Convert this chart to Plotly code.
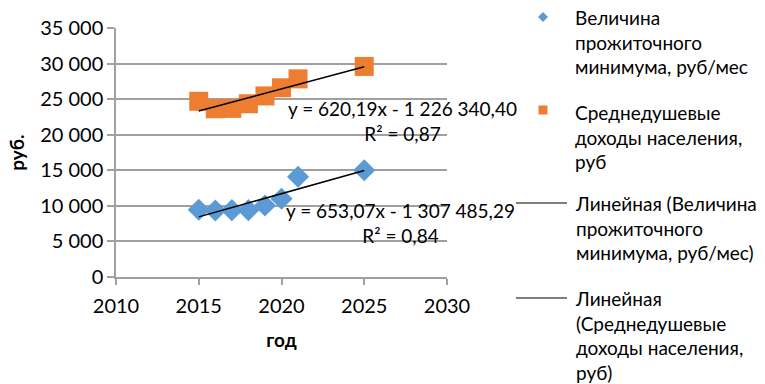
import plotly.graph_objects as go

# Годы наблюдений
years = [2015, 2016, 2017, 2018, 2019, 2020, 2021, 2025]
# Величина прожиточного минимума, руб/мес
subsistence = [9450, 9350, 9400, 9400, 10050, 11000, 14100, 15000]
# Среднедушевые доходы населения, руб
income = [24700, 23650, 23700, 24350, 25450, 26600, 27850, 29600]

# Линейные тренды: y = a*x + b
trend_sub = {"a": 653.07, "b": -1307485.29, "r2": "0,84", "eq": "y = 653,07x - 1 307 485,29"}
trend_inc = {"a": 620.19, "b": -1226340.40, "r2": "0,87", "eq": "y = 620,19x - 1 226 340,40"}

# Подписи легенды
legend_labels = [
    "Величина<br>прожиточного<br>минимума, руб/мес",
    "Среднедушевые<br>доходы населения,<br>руб",
    "Линейная (Величина<br>прожиточного<br>минимума, руб/мес)",
    "Линейная<br>(Среднедушевые<br>доходы населения,<br>руб)",
]

y_ticks = [0, 5000, 10000, 15000, 20000, 25000, 30000, 35000]
y_ticktext = ["0", "5 000", "10 000", "15 000", "20 000", "25 000", "30 000", "35 000"]
x_ticks = [2010, 2015, 2020, 2025, 2030]

BLUE = "#5B9BD5"
ORANGE = "#ED7D31"
GRID = "#A0A0A0"
FONT = "Lato"
W, H = 765, 384
L, R, T, B = 116, 318, 28, 107
PW, PH = W - L - R, H - T - B

fig = go.Figure()

# Точки рядов
fig.add_trace(go.Scatter(x=years, y=subsistence, mode="markers", name="Величина прожиточного минимума, руб/мес",
                         marker=dict(symbol="diamond", size=17, color=BLUE)))
fig.add_trace(go.Scatter(x=years, y=income, mode="markers", name="Среднедушевые доходы населения, руб",
                         marker=dict(symbol="square", size=19, color=ORANGE)))

# Линии тренда между первым и последним годом
x_tr = [years[0], years[-1]]
for tr in (trend_sub, trend_inc):
    fig.add_trace(go.Scatter(x=x_tr, y=[tr["a"] * v + tr["b"] for v in x_tr], mode="lines",
                             name="Линейная", line=dict(color="black", width=1.5)))

# Подписи уравнений трендов
for tr, xc, yc in ((trend_inc, 2027.3, 21890), (trend_sub, 2027.2, 7550)):
    fig.add_annotation(x=xc, y=yc, xref="x", yref="y", showarrow=False,
                       text=f"{tr['eq']}<br>R² = {tr['r2']}", align="center",
                       xanchor="center", yanchor="middle",
                       font=dict(family=FONT, size=19, color="black"))


# Легенда справа от области построения (координаты в пикселях -> paper)
def px(xp):
    return (xp - L) / PW


def py(yp):
    return (H - B - yp) / PH


LEG_FS = 19
line_h = 1.3 * LEG_FS
legend_first_lines = [17, 112, 203, 298]
for text, y0 in zip(legend_labels, legend_first_lines):
    n = text.count("<br>") + 1
    yc = y0 + (n - 1) * line_h / 2
    fig.add_annotation(x=px(573), y=py(yc), xref="paper", yref="paper", showarrow=False,
                       text=text, align="left", xanchor="left", yanchor="middle",
                       font=dict(family=FONT, size=LEG_FS, color="black"))

sx, d = 543, 5
fig.add_shape(type="path", xref="paper", yref="paper", line_width=0, fillcolor=BLUE,
              path=f"M{px(sx - d)},{py(17)} L{px(sx)},{py(17 - d)} L{px(sx + d)},{py(17)} L{px(sx)},{py(17 + d)} Z")
fig.add_shape(type="rect", xref="paper", yref="paper", line_width=0, fillcolor=ORANGE,
              x0=px(sx - 4.5), x1=px(sx + 4.5), y0=py(110 + 4.5), y1=py(110 - 4.5))
for yl in (203, 298):
    fig.add_shape(type="line", xref="paper", yref="paper", line=dict(color="black", width=1.2),
                  x0=px(516), x1=px(567), y0=py(yl), y1=py(yl))

fig.update_layout(
    width=W, height=H,
    margin=dict(l=L, r=R, t=T, b=B),
    paper_bgcolor="white", plot_bgcolor="white",
    font=dict(family=FONT, size=20, color="black"),
    showlegend=False,
    xaxis=dict(range=[2010, 2030], tickvals=x_ticks,
               showgrid=False, zeroline=False, showline=True, linecolor=GRID, linewidth=1.5,
               ticks="outside", ticklen=6, tickcolor=GRID, tickwidth=1.5, ticklabelstandoff=4,
               title=dict(text="<b>год</b>", standoff=18, font=dict(family=FONT, size=19))),
    yaxis=dict(range=[0, 35000], tickvals=y_ticks, ticktext=y_ticktext,
               showgrid=True, gridcolor=GRID, gridwidth=1.5, zeroline=False,
               showline=True, linecolor=GRID, linewidth=1.5,
               ticks="outside", ticklen=7, tickcolor=GRID, tickwidth=1.5,
               title=dict(text="<b>руб.</b>", standoff=10, font=dict(family=FONT, size=19))),
)

fig.write_html("out.html")
